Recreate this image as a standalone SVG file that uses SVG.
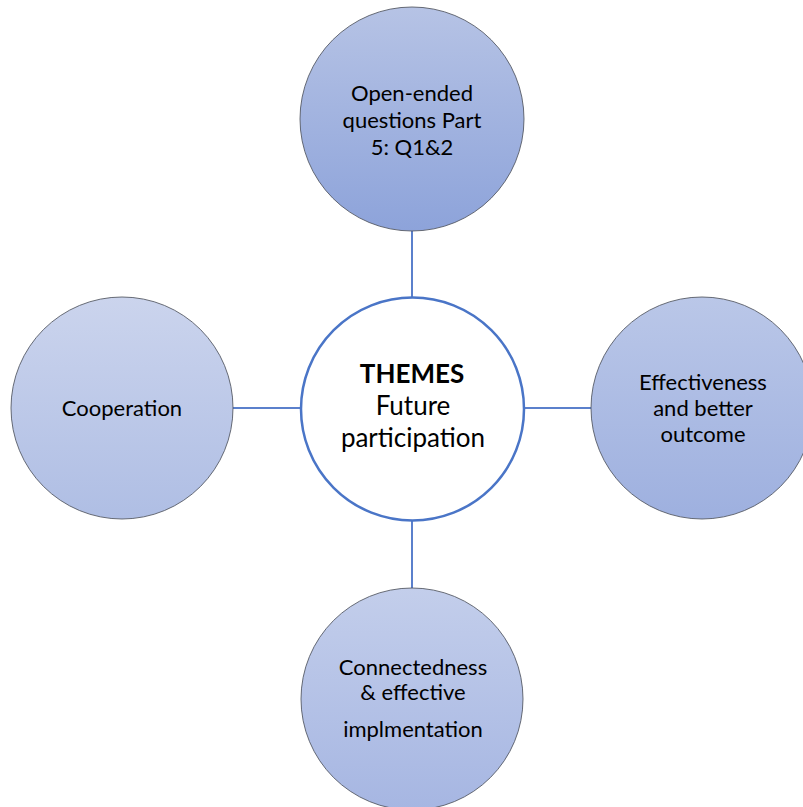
<svg xmlns="http://www.w3.org/2000/svg" width="803" height="807" viewBox="0 0 803 807">
<defs>
<linearGradient id="gTop" x1="0" y1="0" x2="0" y2="1"><stop offset="0" stop-color="#b6c3e5"/><stop offset="1" stop-color="#8da3da"/></linearGradient>
<linearGradient id="gLeft" x1="0" y1="0" x2="0" y2="1"><stop offset="0" stop-color="#cbd4ed"/><stop offset="1" stop-color="#afbee4"/></linearGradient>
<linearGradient id="gRight" x1="0" y1="0" x2="0" y2="1"><stop offset="0" stop-color="#bac7e8"/><stop offset="1" stop-color="#9eb0df"/></linearGradient>
<linearGradient id="gBottom" x1="0" y1="0" x2="0" y2="1"><stop offset="0" stop-color="#c3ceeb"/><stop offset="1" stop-color="#a6b6e2"/></linearGradient>
</defs>
<style>
.outer{stroke:#4f545e;stroke-width:1;stroke-opacity:0.85}
.hub{fill:#ffffff;stroke:#4a75c7;stroke-width:2.5}
.conn{stroke:#5b80cc;stroke-width:2;fill:none}
text{font-family:Lato,"Open Sans","Liberation Sans",sans-serif;fill:#000;text-anchor:middle}
.lbl{font-size:22px}
.hubt{font-size:26px}
.hubb{font-size:26px;font-weight:bold}
</style>
<rect width="803" height="807" fill="#ffffff"/>
<g id="connectors">
<line class="conn" x1="412" y1="231" x2="412" y2="297"/>
<line class="conn" x1="231" y1="408" x2="300" y2="408"/>
<line class="conn" x1="525" y1="408" x2="591" y2="408"/>
<line class="conn" x1="412" y1="521" x2="412" y2="588"/>
</g>
<g id="node-top">
<circle class="outer" cx="412" cy="119" r="112" fill="url(#gTop)"/>
<text class="lbl" x="412" y="101">Open-ended</text>
<text class="lbl" x="412" y="128">questions Part</text>
<text class="lbl" x="412" y="155">5: Q1&amp;2</text>
</g>
<g id="node-left">
<circle class="outer" cx="122" cy="408" r="111" fill="url(#gLeft)"/>
<text class="lbl" x="122" y="416">Cooperation</text>
</g>
<g id="node-right">
<circle class="outer" cx="702" cy="408" r="111" fill="url(#gRight)"/>
<text class="lbl" x="703" y="390">Effectiveness</text>
<text class="lbl" x="703" y="416">and better</text>
<text class="lbl" x="703" y="442">outcome</text>
</g>
<g id="node-bottom">
<circle class="outer" cx="412" cy="699" r="111" fill="url(#gBottom)"/>
<text class="lbl" x="413" y="675">Connectedness</text>
<text class="lbl" x="413" y="700">&amp; effective</text>
<text class="lbl" x="413" y="737">implmentation</text>
</g>
<g id="node-center">
<circle class="hub" cx="412.5" cy="409" r="111.5"/>
<text class="hubb" x="412" y="383">THEMES</text>
<text class="hubt" x="413" y="415">Future</text>
<text class="hubt" x="413" y="447">participation</text>
</g>
</svg>
